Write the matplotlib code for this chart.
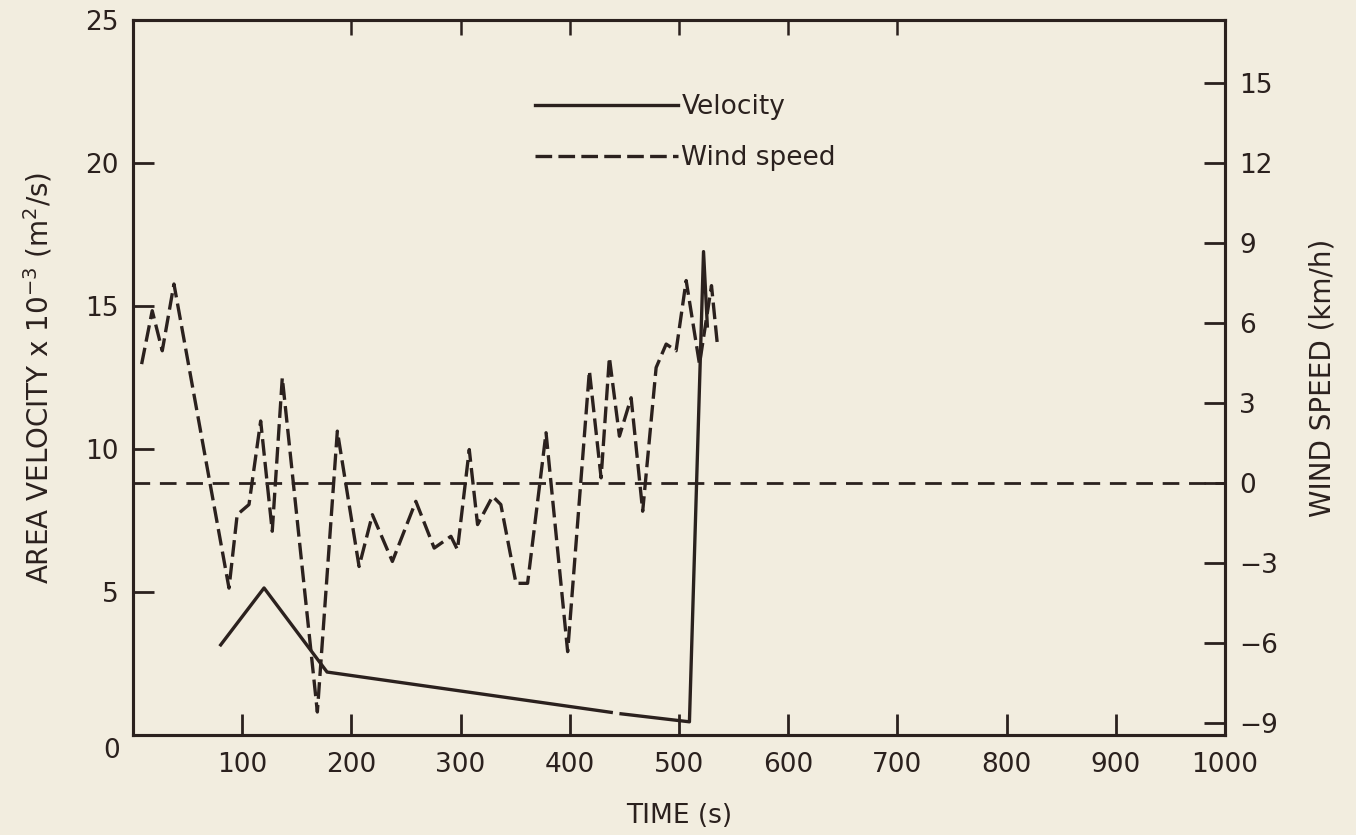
import matplotlib

matplotlib.use("Agg")

import matplotlib.pyplot as plt
import numpy as np

# =========================
# Data
# =========================

# area velocity (x 10^-3 m^2/s), left axis; nan = short gap in the trace
VEL_TIME = [80.4, 120.1, 177.8, 438.0, 442.0, 447.0, 509.6, 522.5, 526.0]
VELOCITY = [3.15, 5.14, 2.20, 0.79, np.nan, 0.74, 0.46, 16.9, 14.3]

# wind speed (km/h), right axis
WIND_TIME = [
    8.0, 17.7, 26.9, 37.6, 88.0, 95.5, 106.3, 117.0, 127.6, 136.8,
    168.9, 187.2, 207.1, 219.3, 237.6, 259.1, 275.9, 291.2, 297.2, 308.0,
    315.6, 329.4, 336.9, 350.8, 361.4, 378.3, 398.1, 418.0, 428.7, 436.3,
    445.5, 456.2, 466.8, 479.1, 488.3, 497.4, 506.6, 518.8, 529.8, 535.3,
]
WIND_SPEED = [
    4.46, 6.46, 4.96, 7.46, -3.93, -1.18, -0.80, 2.33, -1.80, 3.95,
    -8.57, 1.95, -3.12, -1.18, -2.93, -0.68, -2.43, -1.99, -2.49, 1.26,
    -1.55, -0.49, -0.80, -3.75, -3.75, 1.89, -6.31, 4.21, 0.20, 4.71,
    1.76, 3.20, -1.05, 4.33, 5.21, 4.96, 7.59, 4.46, 7.40, 5.15,
]

X_TICKS = [100, 200, 300, 400, 500, 600, 700, 800, 900, 1000]
TOP_TICKS = [200, 300, 400, 500, 600, 700]
LEFT_TICKS = [5, 10, 15, 20, 25]
RIGHT_TICKS = [-9, -6, -3, 0, 3, 6, 9, 12, 15]

# =========================
# Style
# =========================

BG = "#f2eddf"
INK = "#2b211e"
FONT = "DejaVu Sans"

plt.rcParams["font.family"] = [FONT]
plt.rcParams["lines.scale_dashes"] = False


def style_axis(ax):
    for spine in ax.spines.values():
        spine.set_linewidth(2.2)
        spine.set_color(INK)
    ax.tick_params(
        direction="in", length=15, width=2.0, colors=INK,
        labelsize=19, pad=10,
    )


def main():
    fig = plt.figure(figsize=(13.56, 8.35), dpi=100, facecolor=BG)
    ax = fig.add_axes([0.098, 0.1198, 0.8054, 0.8563], facecolor=BG)
    ax2 = ax.twinx()

    style_axis(ax)
    style_axis(ax2)

    ax.set_xlim(0, 1000)
    ax.set_ylim(0, 25)
    ax2.set_ylim(-9.43, 17.35)

    ax.set_xticks(X_TICKS)
    ax.set_yticks(LEFT_TICKS)
    ax2.set_yticks(RIGHT_TICKS)
    ax2.set_yticklabels([f"{v}".replace("-", "\u2212") for v in RIGHT_TICKS])
    ax.tick_params(axis="x", pad=12)

    # short marks along the top frame
    top = ax.secondary_xaxis("top")
    top.set_xticks(TOP_TICKS)
    top.set_xticklabels([])
    top.tick_params(direction="in", length=11, width=1.8, colors=INK)
    top.spines["top"].set_visible(False)

    # zero line of the wind speed scale
    ax2.axhline(0, color=INK, lw=2.0, dashes=(12, 7))

    vel_line, = ax.plot(VEL_TIME, VELOCITY, color=INK, lw=2.4)
    wind_line, = ax2.plot(WIND_TIME, WIND_SPEED, color=INK, lw=2.4,
                          dashes=(12, 4.5))

    ax.text(-0.012, -0.022, "0", transform=ax.transAxes, ha="right", va="center",
            fontsize=19, color=INK)

    ax.set_xlabel("TIME (s)", fontsize=19, color=INK, labelpad=18)
    ax.set_ylabel("AREA VELOCITY x 10$^{-3}$ (m$^2$/s)", fontsize=20, color=INK,
                  labelpad=22)
    ax2.set_ylabel("WIND SPEED (km/h)", fontsize=20, color=INK, labelpad=22)

    leg = ax.legend(
        [vel_line, wind_line], ["Velocity", "Wind speed"],
        loc="upper left", bbox_to_anchor=(535 / 1356, 1 - 94 / 835),
        bbox_transform=fig.transFigure, frameon=False, fontsize=19,
        handlelength=5.4, handletextpad=0.15, labelspacing=0.95, borderpad=0,
        borderaxespad=0,
    )
    for text in leg.get_texts():
        text.set_color(INK)

    fig.savefig("out.png", dpi=100, facecolor=BG)


if __name__ == "__main__":
    main()
